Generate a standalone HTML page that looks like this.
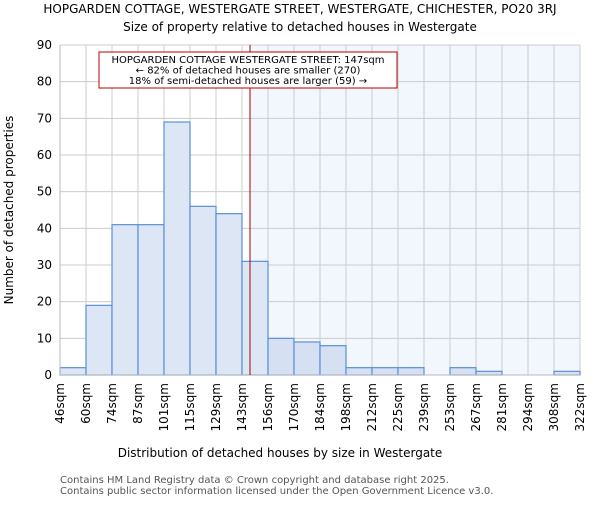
<!DOCTYPE html>
<html><head><meta charset="utf-8"><style>
body{margin:0;background:#fff}
svg text{font-family:"DejaVu Sans","Liberation Sans",sans-serif}
</style></head><body>
<svg id="c" width="600" height="500" xmlns="http://www.w3.org/2000/svg">
<text x="300" y="13" text-anchor="middle" font-size="12">HOPGARDEN COTTAGE, WESTERGATE STREET, WESTERGATE, CHICHESTER, PO20 3RJ</text>
<text x="300" y="31" text-anchor="middle" font-size="12">Size of property relative to detached houses in Westergate</text>
<g id="plot"></g>
<text x="280" y="457" text-anchor="middle" font-size="12">Distribution of detached houses by size in Westergate</text>
<text transform="translate(13,210) rotate(-90)" text-anchor="middle" font-size="12">Number of detached properties</text>
<text x="60" y="483" font-size="10" fill="#555">Contains HM Land Registry data © Crown copyright and database right 2025.</text>
<text x="60" y="494" font-size="10" fill="#555">Contains public sector information licensed under the Open Government Licence v3.0.</text>
</svg>
<script>
const categories=["46sqm","60sqm","74sqm","87sqm","101sqm","115sqm","129sqm","143sqm","156sqm","170sqm","184sqm","198sqm","212sqm","225sqm","239sqm","253sqm","267sqm","281sqm","294sqm","308sqm","322sqm"];
const counts=[2,19,41,41,69,46,44,31,10,9,8,2,2,2,0,2,1,0,0,1];
const yTicks=[0,10,20,30,40,50,60,70,80,90];
const markerIndex=7+4/13;
const NS="http://www.w3.org/2000/svg";
const g=document.getElementById('plot');
const X0=60,X1=580,Y0=375,Y1=45,YMAX=90;
const bw=(X1-X0)/counts.length;
const xs=i=>X0+i*bw;
const ys=v=>Y0-(v/YMAX)*(Y0-Y1);
function mk(t,a){const e=document.createElementNS(NS,t);for(const k in a)e.setAttribute(k,a[k]);g.appendChild(e);return e;}
const mx=xs(markerIndex);
let e=mk('rect',{x:mx,y:Y1,width:X1-mx,height:Y0-Y1,fill:'#f2f6fd'});


yTicks.forEach(v=>{
 let l=mk('line',{x1:X0,x2:X1,y1:ys(v),y2:ys(v),stroke:'#cccccc'});
 
 
 let t=mk('text',{x:X0-8,y:ys(v)+4,'text-anchor':'end','font-size':'12'});t.textContent=v;
 
 
});
categories.forEach((c,i)=>{
 let l=mk('line',{x1:xs(i),x2:xs(i),y1:Y1,y2:Y0,stroke:'#cccccc'});
 
 
 let t=mk('text',{transform:`translate(${xs(i)+4},${Y0+8}) rotate(-90)`,'text-anchor':'end','font-size':'12'});t.textContent=c;
 
 
});
counts.forEach((v,i)=>{
 if(v<=0)return;
 let r=mk('rect',{x:xs(i),y:ys(v),width:bw,height:Y0-ys(v),fill:xs(i)<mx?'#dce6f4':'#d5e0f2',stroke:'#5b8fd6','stroke-width':1.2});
 
 
});
e=mk('line',{x1:X0,x2:X0,y1:Y1,y2:Y0,stroke:'#bbb'});


e=mk('line',{x1:X0,x2:X1,y1:Y0,y2:Y0,stroke:'#bbb'});


e=mk('line',{x1:mx,x2:mx,y1:Y1,y2:Y0,stroke:'#aa0000','stroke-width':1});


e=mk('rect',{x:99,y:52,width:298,height:36,fill:'#fff',stroke:'#bb0000'});


["HOPGARDEN COTTAGE WESTERGATE STREET: 147sqm","← 82% of detached houses are smaller (270)","18% of semi-detached houses are larger (59) →"].forEach((s,i)=>{
 let t=mk('text',{x:248,y:63+i*10.5,'text-anchor':'middle','font-size':'10'});t.textContent=s;
 
 
});
</script>
</body></html>
